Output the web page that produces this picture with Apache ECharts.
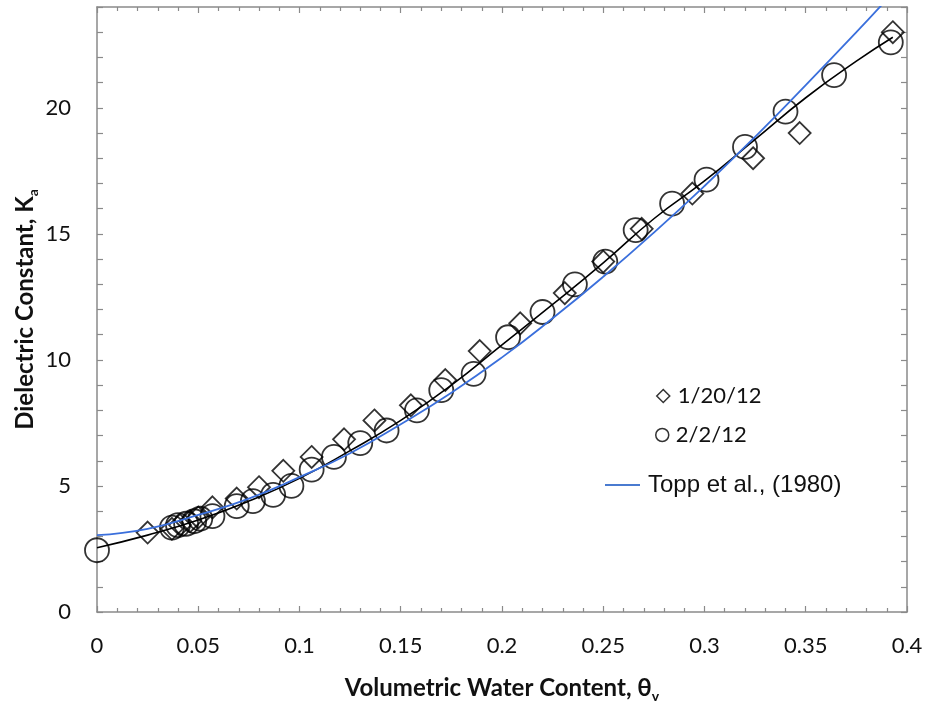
<!DOCTYPE html>
<html>
<head>
<meta charset="utf-8">
<script src="https://cdn.jsdelivr.net/npm/echarts@6/dist/echarts.min.js"></script>
<style>
html,body{margin:0;padding:0;background:#fff;}
#chart{width:925px;height:706px;}
</style>
</head>
<body>
<div id="chart"></div>
<script>
// ---- data ----
const xTickLabels = ['0','0.05','0.1','0.15','0.2','0.25','0.3','0.35','0.4'];
const yTickLabels = ['0','5','10','15','20'];

// 1/20/12 measurements (theta_v, Ka)
const jan20 = [
  [0.025,3.15],[0.037,3.3],[0.041,3.45],[0.046,3.6],[0.050,3.75],[0.057,4.15],
  [0.069,4.5],[0.080,4.95],[0.092,5.6],[0.106,6.15],[0.122,6.85],[0.137,7.6],
  [0.155,8.2],[0.172,9.2],[0.189,10.35],[0.209,11.45],[0.231,12.65],[0.250,13.9],
  [0.269,15.2],[0.294,16.6],[0.324,18.0],[0.347,19.0],[0.393,23.0]
];
// 2/2/12 measurements (theta_v, Ka)
const feb2 = [
  [0.000,2.45],[0.037,3.35],[0.040,3.45],[0.044,3.5],[0.048,3.6],[0.051,3.7],
  [0.057,3.8],[0.069,4.2],[0.077,4.4],[0.087,4.65],[0.096,5.0],[0.106,5.65],
  [0.117,6.15],[0.130,6.7],[0.143,7.2],[0.158,8.0],[0.170,8.8],[0.186,9.45],
  [0.203,10.9],[0.220,11.9],[0.236,13.0],[0.251,13.9],[0.266,15.15],[0.284,16.2],
  [0.301,17.15],[0.320,18.45],[0.340,19.85],[0.364,21.3],[0.392,22.6]
];
// black fitted curve through the measurements
const fitCurve = [
  [0,2.55],[0.025,3.05],[0.05,3.65],[0.075,4.4],[0.1,5.3],[0.125,6.4],[0.15,7.6],
  [0.175,9.0],[0.2,10.6],[0.225,12.2],[0.25,13.85],[0.275,15.6],[0.3,17.1],
  [0.325,18.75],[0.35,20.4],[0.375,21.85],[0.393,22.8]
];
// blue Topp et al. (1980) curve
const toppCurve = [
  [0,3.05],[0.025,3.3],[0.05,3.85],[0.075,4.5],[0.1,5.35],[0.125,6.3],[0.15,7.45],
  [0.175,8.7],[0.2,10.1],[0.225,11.65],[0.25,13.3],[0.275,15.05],[0.3,16.9],
  [0.325,18.85],[0.35,20.9],[0.375,23.0],[0.39,24.3]
];

const tickColor = '#8a8a8a';
const font = 'Lato';

const chart = echarts.init(document.getElementById('chart'), null, {renderer:'canvas'});

const markerStyle = {
  color: 'rgba(255,255,255,0)',
  borderColor: '#000',
  borderWidth: 1.8
};

const subRich = {
  b: {fontFamily: font, fontWeight: 'bold', fontSize: 24, color: '#111', lineHeight: 30},
  s: {fontFamily: font, fontWeight: 'bold', fontSize: 14, color: '#111', lineHeight: 30, verticalAlign: 'bottom', padding: [9,0,0,0]}
};

const option = {
  animation: false,
  backgroundColor: '#fff',
  grid: {left: 97, right: 18, top: 7, bottom: 94, containLabel: false, outerBoundsMode: 'none'},
  xAxis: [{
    type: 'value', position: 'bottom', min: 0, max: 0.4, interval: 0.05,
    axisLine: {show: true, onZero: false, lineStyle: {color: tickColor, width: 1.5}},
    axisTick: {show: true, inside: true, length: 6, lineStyle: {color: tickColor, width: 1.2}},
    minorTick: {show: true, splitNumber: 5, length: 4, lineStyle: {color: tickColor, width: 1.2}},
    splitLine: {show: false},
    axisLabel: {
      margin: 23, color: '#111', fontFamily: font, fontSize: 22,
      formatter: (v, i) => xTickLabels[i] !== undefined ? xTickLabels[i] : ''
    },
    name: '{b|Volumetric Water Content, θ}{s|v}',
    nameLocation: 'middle', nameGap: 61, nameMoveOverlap: false,
    nameTextStyle: {rich: subRich}
  }, {
    type: 'value', position: 'top', min: 0, max: 0.4, interval: 0.05,
    axisLine: {show: true, onZero: false, lineStyle: {color: tickColor, width: 1.5}},
    axisTick: {show: true, inside: true, length: 6, lineStyle: {color: tickColor, width: 1.2}},
    minorTick: {show: true, splitNumber: 5, length: 4, lineStyle: {color: tickColor, width: 1.2}},
    splitLine: {show: false},
    axisLabel: {show: false}
  }],
  yAxis: [{
    type: 'value', position: 'left', min: 0, max: 24, interval: 1,
    axisLine: {show: true, onZero: false, lineStyle: {color: tickColor, width: 1.5}},
    axisTick: {show: true, inside: true, length: 6, lineStyle: {color: tickColor, width: 1.2}},
    splitLine: {show: false},
    axisLabel: {
      margin: 26, color: '#111', fontFamily: font, fontSize: 22,
      formatter: (v) => yTickLabels.indexOf(String(v)) >= 0 ? String(v) : ''
    },
    name: '{b|Dielectric Constant, K}{s|a}',
    nameLocation: 'middle', nameGap: 57, nameMoveOverlap: false,
    nameTextStyle: {rich: subRich}
  }, {
    type: 'value', position: 'right', min: 0, max: 24, interval: 1,
    axisLine: {show: true, onZero: false, lineStyle: {color: tickColor, width: 1.5}},
    axisTick: {show: true, inside: true, length: 6, lineStyle: {color: tickColor, width: 1.2}},
    splitLine: {show: false},
    axisLabel: {show: false}
  }],
  legend: [{
    data: [{name: '1/20/12', icon: 'diamond', itemStyle: {color: '#fff', borderColor: '#000', borderWidth: 1.5}}],
    left: 656, top: 385, orient: 'vertical', padding: 0,
    itemWidth: 13, itemHeight: 13,
    textStyle: {fontFamily: font, fontSize: 22, color: '#111', padding: [0,0,0,3]}
  }, {
    data: [{name: '2/2/12', icon: 'circle', itemStyle: {color: '#fff', borderColor: '#000', borderWidth: 1.5}}],
    left: 655, top: 424, orient: 'vertical', padding: 0,
    itemWidth: 13, itemHeight: 13,
    textStyle: {fontFamily: font, fontSize: 22, color: '#111', padding: [0,0,0,2]}
  }, {
    data: [{name: 'Topp et al., (1980)', icon: 'rect', itemStyle: {color: '#4a7bd0'}}],
    left: 605, top: 473, orient: 'vertical', padding: 0,
    itemWidth: 35, itemHeight: 2,
    textStyle: {fontFamily: 'Liberation Sans', fontSize: 24, color: '#111', padding: [0,0,0,3]}
  }],
  series: [{
    name: 'fit', type: 'line', data: fitCurve, smooth: 0.5,
    showSymbol: false, symbol: 'none',
    lineStyle: {color: '#000', width: 1.6},
    z: 2, silent: true
  }, {
    name: '1/20/12', type: 'scatter', data: jan20,
    symbol: 'diamond', symbolSize: 22,
    itemStyle: markerStyle, z: 3
  }, {
    name: '2/2/12', type: 'scatter', data: feb2,
    symbol: 'circle', symbolSize: 24,
    itemStyle: markerStyle, z: 3
  }, {
    name: 'Topp et al., (1980)', type: 'line', data: toppCurve, smooth: 0.5,
    showSymbol: false, symbol: 'none', clip: true,
    lineStyle: {color: '#3a6fdc', width: 1.8},
    itemStyle: {color: '#3a6fdc'},
    z: 4
  }]
};

chart.setOption(option);
</script>
</body>
</html>
